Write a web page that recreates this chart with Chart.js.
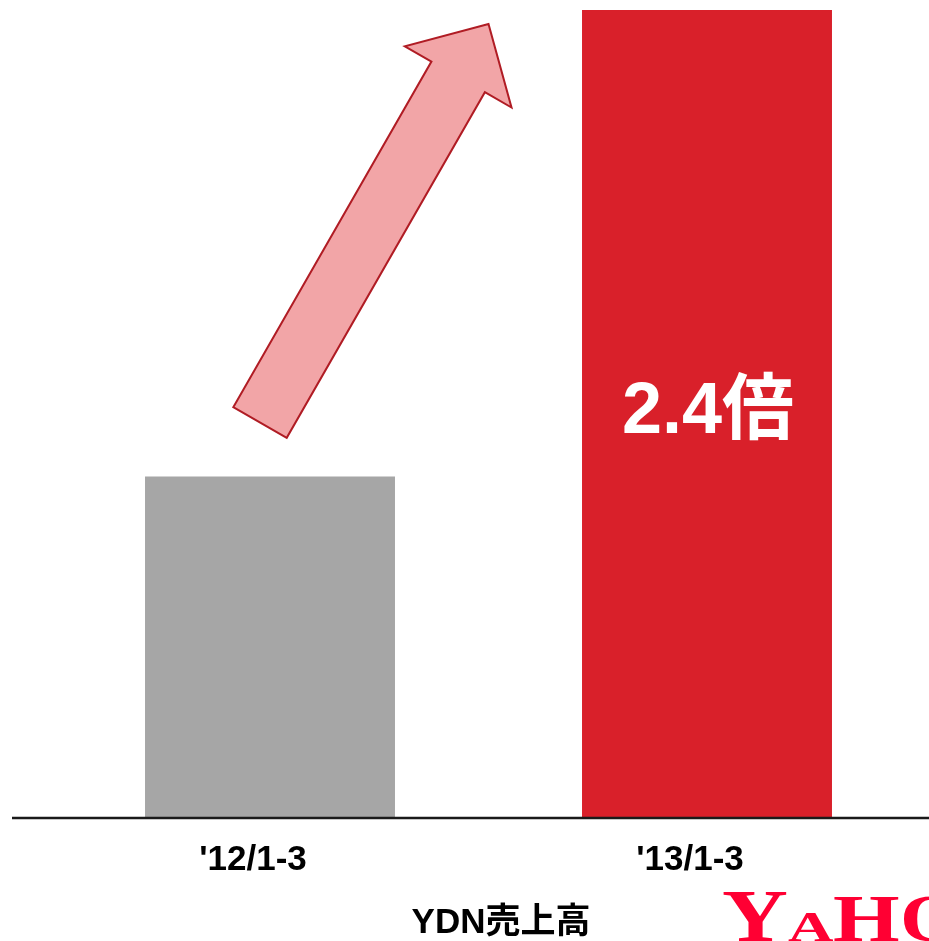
<!DOCTYPE html>
<html>
<head>
<meta charset="utf-8">
<script src="https://cdn.jsdelivr.net/npm/chart.js@4"></script>
<style>
  html, body { margin: 0; padding: 0; background: #fff; }
  canvas { display: block; }
</style>
</head>
<body>
<canvas id="ydnChart" width="929" height="941"></canvas>
<script>
const categories = ["'12/1-3", "'13/1-3"];
const salesValues = [1.0, 2.37];
const barColors = ["#a6a6a6", "#d9202a"];
const multipleLabel = "2.4倍";
const axisTitle = "YDN売上高";
const logoText = ["Y", "A", "H", "O"];

const FONT = "'Liberation Sans', Arial, 'Noto Sans CJK JP', sans-serif";

// arrow from above the grey bar to between the two bars, plus the big label
const overlayPlugin = {
  id: "overlay",
  afterDatasetsDraw(chart) {
    const ctx = chart.ctx;
    const x = chart.scales.x;
    const y = chart.scales.y;
    const gx = x.getPixelForValue(0);
    const rx = x.getPixelForValue(1);
    const gTop = y.getPixelForValue(salesValues[0]);
    const rTop = y.getPixelForValue(salesValues[1]);
    const base = y.getPixelForValue(0);

    // baseline
    ctx.save();
    ctx.strokeStyle = "#1a1a1a";
    ctx.lineWidth = 2.5;
    ctx.beginPath();
    ctx.moveTo(12, base + 1);
    ctx.lineTo(chart.width, base + 1);
    ctx.stroke();
    ctx.restore();

    // arrow
    const tail = { x: gx - 10, y: gTop - 54 };
    const tip = { x: (gx + rx) / 2, y: rTop + 14 };
    const dx = tip.x - tail.x, dy = tip.y - tail.y;
    const len = Math.hypot(dx, dy);
    const u = { x: dx / len, y: dy / len };
    const n = { x: -u.y, y: u.x };
    const hw = 30.8, HW = 61.5, HL = 61;
    const hb = { x: tip.x - u.x * HL, y: tip.y - u.y * HL };
    const pts = [
      [tail.x - n.x * hw, tail.y - n.y * hw],
      [hb.x - n.x * hw, hb.y - n.y * hw],
      [hb.x - n.x * HW, hb.y - n.y * HW],
      [tip.x, tip.y],
      [hb.x + n.x * HW, hb.y + n.y * HW],
      [hb.x + n.x * hw, hb.y + n.y * hw],
      [tail.x + n.x * hw, tail.y + n.y * hw]
    ];
    ctx.save();
    ctx.beginPath();
    pts.forEach((p, i) => (i ? ctx.lineTo(p[0], p[1]) : ctx.moveTo(p[0], p[1])));
    ctx.closePath();
    ctx.fillStyle = "#f2a5a7";
    ctx.fill();
    ctx.strokeStyle = "#b01c24";
    ctx.lineWidth = 2;
    ctx.lineJoin = "miter";
    ctx.stroke();
    ctx.restore();

    // 2.4倍 label in the red bar
    ctx.save();
    ctx.fillStyle = "#ffffff";
    ctx.font = "bold 72px " + FONT;
    ctx.textAlign = "center";
    ctx.textBaseline = "alphabetic";
    ctx.fillText(multipleLabel, rx + 1, 433);
    ctx.restore();
  },
  afterDraw(chart) {
    const ctx = chart.ctx;
    // axis title
    ctx.save();
    ctx.fillStyle = "#000";
    ctx.font = "bold 35px " + FONT;
    ctx.textAlign = "center";
    ctx.textBaseline = "alphabetic";
    ctx.fillText(axisTitle, 501, 933);
    ctx.restore();

    // logo, cut off by the right edge
    const sizes = [73, 42, 68, 68];
    const widths = [1.25, 1.5, 1.26, 1.2];
    const starts = [722, 788, 833, 900];
    ctx.save();
    ctx.fillStyle = "#ff0033";
    ctx.textBaseline = "alphabetic";
    logoText.forEach((ch, i) => {
      ctx.save();
      ctx.font = "bold " + sizes[i] + "px 'Liberation Serif', 'DejaVu Serif', serif";
      ctx.translate(starts[i], 941);
      ctx.scale(widths[i], 1);
      ctx.fillText(ch, 0, 0);
      ctx.restore();
    });
    ctx.restore();
  }
};

new Chart(document.getElementById("ydnChart"), {
  type: "bar",
  data: {
    labels: categories,
    datasets: [
      {
        data: salesValues,
        backgroundColor: barColors,
        borderWidth: 0,
        barPercentage: 0.572,
        categoryPercentage: 1
      }
    ]
  },
  options: {
    responsive: false,
    animation: false,
    layout: { padding: { left: 51.5, right: 3.5, top: 10, bottom: 38 } },
    plugins: {
      legend: { display: false },
      tooltip: { enabled: false }
    },
    scales: {
      x: {
        grid: { display: false, drawTicks: false },
        border: { display: false },
        ticks: {
          color: "#000",
          font: { family: FONT, size: 35, weight: "bold" },
          padding: 22,
          labelOffset: -17
        }
      },
      y: {
        display: false,
        min: 0,
        max: 2.37
      }
    }
  },
  plugins: [overlayPlugin]
});
</script>
</body>
</html>
